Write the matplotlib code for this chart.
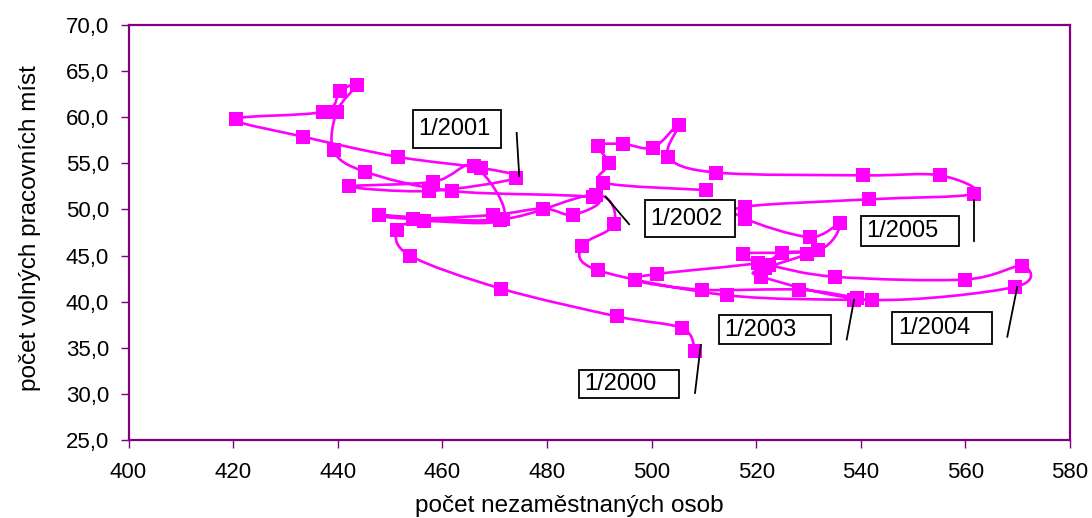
import numpy as np
import matplotlib
matplotlib.use("Agg")
import matplotlib.pyplot as plt
from matplotlib.path import Path
from matplotlib.patches import PathPatch, Rectangle
from matplotlib.ticker import FuncFormatter, MultipleLocator

plt.rcParams['font.family'] = ['Liberation Sans', 'DejaVu Sans']

# monthly values 1/2000 - 12/2005, thousands
unemployed = [
    508.3, 505.9, 493.4, 471.3, 453.8, 451.4, 456.4, 471.6, 466.1, 458.3, 442.2, 457.4,  # 2000
    474.0, 467.4, 451.5, 433.3, 420.5, 437.2, 440.4, 443.6, 439.8, 439.2, 445.2, 461.8,  # 2001
    488.8, 485.0, 479.2, 469.7, 454.3, 447.9, 471.0, 489.3, 492.9, 486.6, 489.8, 514.4,  # 2002
    538.6, 539.2, 528.2, 509.6, 496.8, 501.0, 520.4, 524.9, 529.7, 521.7, 521.0, 542.2,  # 2003
    569.5, 570.8, 559.9, 535.1, 522.5, 517.5, 531.9, 536.0, 530.2, 517.9, 517.9, 541.6,  # 2004
    561.6, 555.1, 540.5, 512.4, 503.2, 505.2, 500.3, 494.6, 489.8, 491.9, 490.8, 510.4,  # 2005
]
vacancies = [
    34.6, 37.1, 38.4, 41.4, 45.0, 47.8, 48.7, 49.0, 54.7, 53.0, 52.5, 52.0,
    53.4, 54.5, 55.7, 57.9, 59.8, 60.6, 62.8, 63.5, 60.6, 56.4, 54.1, 52.0,
    51.3, 49.4, 50.1, 49.4, 49.0, 49.4, 48.9, 51.6, 48.4, 46.0, 43.4, 40.7,
    40.2, 40.4, 41.3, 41.3, 42.3, 43.0, 44.2, 45.3, 45.2, 43.6, 42.7, 40.2,
    41.6, 43.9, 42.4, 42.7, 44.0, 45.2, 45.6, 48.5, 47.0, 49.0, 50.3, 51.1,
    51.7, 53.7, 53.7, 54.0, 55.7, 59.2, 56.7, 57.1, 56.9, 55.0, 52.9, 52.1,
]
year_labels = ['1/2000', '1/2001', '1/2002', '1/2003', '1/2004', '1/2005']

# text boxes (x0, y0, x1, y1) and leader lines (x0, y0, x1, y1), data units
label_boxes = [
    (486.1, 29.6, 505.2, 32.6),
    (454.3, 56.7, 471.3, 60.8),
    (498.7, 47.0, 515.9, 51.0),
    (512.8, 35.4, 534.3, 38.5),
    (546.0, 35.4, 565.1, 38.9),
    (540.0, 46.0, 558.8, 49.3),
]
leaders = [
    (509.4, 35.3, 508.3, 30.1),
    (474.2, 58.3, 474.7, 53.6),
    (491.2, 51.4, 495.7, 48.4),
    (538.7, 40.2, 537.3, 35.9),
    (569.9, 41.6, 568.0, 36.2),
    (561.6, 51.0, 561.6, 46.6),
]

MAGENTA = '#FF00FF'
FRAME = '#800080'


def smooth_path(xs, ys):
    # cardinal spline through every point, drawn as cubic bezier pieces
    pts = np.column_stack([xs, ys])
    ext = np.vstack([pts[0], pts, pts[-1]])
    verts = [pts[0]]
    codes = [Path.MOVETO]
    for i in range(len(pts) - 1):
        p0, p1, p2, p3 = ext[i], ext[i + 1], ext[i + 2], ext[i + 3]
        verts += [p1 + (p2 - p0) / 6.0, p2 - (p3 - p1) / 6.0, p2]
        codes += [Path.CURVE4] * 3
    return Path(verts, codes)


fig = plt.figure(figsize=(10.92, 5.18), dpi=100)
ax = fig.add_axes([0.1177, 0.1506, 0.8622, 0.8011])

ax.add_patch(PathPatch(smooth_path(unemployed, vacancies), facecolor='none',
                       edgecolor=MAGENTA, lw=1.9, zorder=2))
ax.plot(unemployed, vacancies, linestyle='none', marker='s', markersize=10.5,
        markerfacecolor=MAGENTA, markeredgewidth=0, zorder=3)

for text, (x0, y0, x1, y1), (lx0, ly0, lx1, ly1) in zip(year_labels, label_boxes, leaders):
    ax.add_patch(Rectangle((x0, y0), x1 - x0, y1 - y0, facecolor='white',
                           edgecolor='black', lw=1.3, zorder=4))
    ax.text(x0 + 1.1, (y0 + y1) / 2, text, fontsize=17, ha='left', va='center', zorder=5)
    ax.plot([lx0, lx1], [ly0, ly1], color='black', lw=1.3, zorder=4)

ax.set_xlim(400, 580)
ax.set_ylim(25, 70)
ax.xaxis.set_major_locator(MultipleLocator(20))
ax.yaxis.set_major_locator(MultipleLocator(5))
ax.yaxis.set_major_formatter(FuncFormatter(lambda v, _: f'{v:.1f}'.replace('.', ',')))
ax.tick_params(direction='out', length=6, width=1, color=FRAME, labelsize=16, pad=8)
ax.tick_params(axis='x', pad=10)
for s in ax.spines.values():
    s.set_color(FRAME)
    s.set_linewidth(1.6)

fig.text(569 / 1092, 1 - 506 / 518, 'počet nezaměstnaných osob', fontsize=17.5,
         ha='center', va='center')
fig.text(30 / 1092, 1 - 228 / 518, 'počet volných pracovních míst', fontsize=17.5,
         ha='center', va='center', rotation=90)

fig.savefig('out.png', dpi=100)
